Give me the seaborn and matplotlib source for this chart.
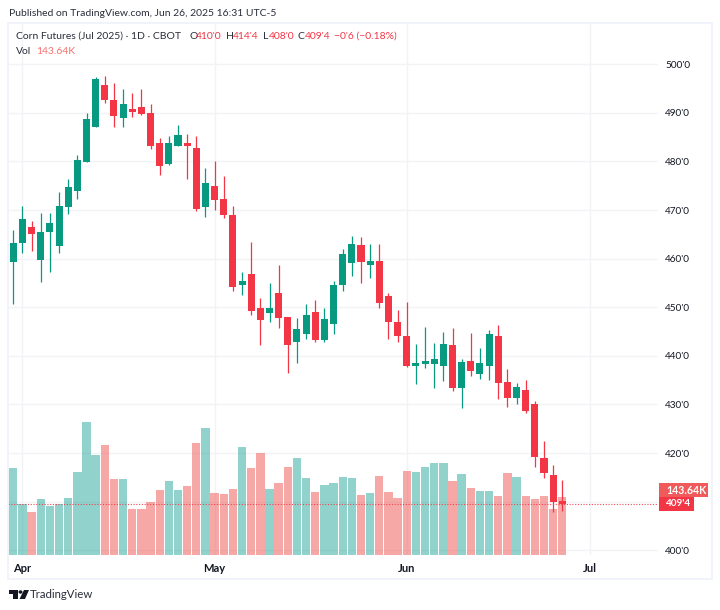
import matplotlib
matplotlib.use("Agg")
import matplotlib.pyplot as plt
from matplotlib.patches import Rectangle, Polygon, Circle
import numpy as np
import pandas as pd
import seaborn as sns

opens = [459.3,463.3,466.5,459.8,465.4,462.6,470.6,473.9,479.8,487.2,495.7,492.6,489.0,490.8,491.3,490.0,
         483.8,479.4,483.2,483.8,482.7,470.6,475.0,472.2,469.0,454.5,456.9,449.9,448.8,452.9,448.0,442.8,
         444.5,449.0,443.3,446.6,454.5,459.2,462.8,458.8,459.5,452.3,447.0,444.0,438.0,438.3,438.3,438.0,
         442.2,433.4,439.0,436.3,438.0,444.0,434.6,431.3,432.9,430.0,418.9,415.4,410.0]
highs = [466.0,470.8,467.8,469.5,469.5,473.8,476.3,481.3,490.0,497.3,497.5,496.1,494.9,494.0,494.9,491.8,
         484.8,485.2,487.5,485.7,485.2,478.6,480.0,477.0,470.8,457.3,463.4,452.0,454.9,458.7,448.0,447.7,
         450.6,451.5,449.8,455.5,461.9,464.7,464.5,463.0,463.0,452.9,449.4,451.0,442.4,445.9,442.7,445.0,
         445.7,439.4,444.7,441.6,445.3,446.4,437.4,434.5,435.0,430.7,422.4,417.5,414.5]
lows = [450.7,461.2,461.6,455.2,457.3,461.2,469.2,472.2,479.8,487.2,492.1,487.0,487.0,489.1,489.6,482.6,
        477.3,479.2,483.2,476.3,469.9,468.6,470.0,468.3,453.4,452.5,448.5,442.3,447.0,445.8,436.4,438.5,
        443.4,442.8,442.9,444.6,453.4,456.4,455.0,456.0,449.9,443.4,442.9,437.8,434.2,437.5,433.3,434.9,
        432.8,429.3,435.9,435.2,435.0,431.1,429.4,430.0,428.3,417.1,414.9,407.9,408.0]
closes = [463.3,468.2,465.1,465.5,467.3,470.8,474.8,480.4,488.7,497.0,492.6,489.4,491.8,490.2,489.8,483.2,
          479.1,483.9,485.5,483.2,470.2,475.6,472.1,468.9,454.1,455.5,449.2,447.4,449.8,447.9,442.3,445.5,
          448.5,443.3,447.5,454.5,461.0,463.0,459.3,459.5,450.9,446.9,444.0,438.0,438.5,438.8,439.4,442.4,
          433.4,438.7,436.9,438.5,444.5,434.5,431.3,433.5,428.6,419.1,416.0,410.0,409.5]
# volume in thousands of contracts
volumes = [214.6,126.3,107.3,137.9,120.5,126.3,140.3,204.7,329.4,246.8,272.4,187.4,187.4,114.7,114.7,132.1,
           161.0,182.4,161.0,170.9,277.4,313.7,153.5,151.1,162.6,267.5,216.3,252.6,162.6,178.3,217.9,239.4,
           189.9,156.8,172.5,178.3,193.2,191.5,149.4,153.5,195.6,156.8,140.3,208.9,206.4,217.9,227.8,227.8,
           183.3,200.6,166.8,158.5,158.5,146.1,203.1,193.2,146.1,138.7,146.1,114.7,143.64]
price_ticks = [400,410,420,430,440,450,460,470,480,490,500]
price_labels = ["400'0","410'0","420'0","430'0","440'0","450'0","460'0","470'0","480'0","490'0","500'0"]
month_ticks = [1,22,43,63]
month_labels = ["Apr","May","Jun","Jul"]
last_price = 409.5
last_price_label = "409'4"
last_volume_label = "143.64K"

GREEN = "#089981"; RED = "#f23645"; VG = "#26a69a"; VR = "#ef5350"
GRID = "#f2f3f6"; INK = "#131722"; SOFT = "#2a2e39"

sns.set_theme(style="white")
plt.rcParams["font.family"] = ["Lato", "DejaVu Sans"]

W, H = 720, 610
fig = plt.figure(figsize=(W/100, H/100), dpi=100, facecolor="white")

def px(x, y):
    return x/W, 1 - y/H

L, R, T, B = 8.0, 658.0, 23.0, 555.0
rect = [L/W, 1-B/H, (R-L)/W, (B-T)/H]
XLIM = ((L-13.3)/9.15, (R-13.3)/9.15)
YLIM = (500-(B-64.3)/4.86, 500-(T-64.3)/4.86)

df = pd.DataFrame(dict(i=np.arange(len(opens)), o=opens, h=highs, l=lows, c=closes, v=volumes))
df["up"] = df.c >= df.o
df["body"] = (df.c - df.o).abs().clip(lower=0.6)
df["base"] = df[["o", "c"]].min(axis=1)

# layer 1: grid and tick labels
ax = fig.add_axes(rect, facecolor="white", zorder=0)
ax.set_xlim(*XLIM); ax.set_ylim(*YLIM)
ax.yaxis.tick_right()
ax.set_yticks(price_ticks, price_labels, fontsize=7.2, color=INK)
ax.set_xticks(month_ticks, month_labels, fontsize=8.0, color=INK, fontweight="bold")
ax.tick_params(axis="both", length=0)
ax.tick_params(axis="y", pad=5)
ax.tick_params(axis="x", pad=5.5)
ax.grid(True, color=GRID, lw=1.0)
ax.set_axisbelow(True)
sns.despine(ax=ax, left=True, right=True, top=True, bottom=True)

# layer 2: volume
axv = fig.add_axes(rect, facecolor="none", zorder=1)
sns.barplot(data=df[df.up], x="i", y="v", native_scale=True, color=VG, saturation=1, alpha=0.5,
            width=0.91, linewidth=0, ax=axv)
sns.barplot(data=df[~df.up], x="i", y="v", native_scale=True, color=VR, saturation=1, alpha=0.5,
            width=0.91, linewidth=0, ax=axv)
axv.set_xlim(*XLIM); axv.set_ylim(0, (B-T)*2.476)
axv.axis("off")

# layer 3: candles
axc = fig.add_axes(rect, facecolor="none", zorder=2)
for up, col in ((True, GREEN), (False, RED)):
    sub = df[df.up == up]
    axc.vlines(sub.i, sub.l, sub.h, color=col, lw=0.9, zorder=2)
    sns.barplot(data=sub, x="i", y="body", bottom=sub.base.to_numpy(), native_scale=True, color=col,
                saturation=1, width=0.77, linewidth=0, ax=axc, zorder=3)
axc.axhline(last_price, color=RED, lw=0.8, ls=(0, (1, 1.5)), alpha=0.9, zorder=1)
axc.set_xlim(*XLIM); axc.set_ylim(*YLIM)
axc.axis("off")

# outer frame
fig.add_artist(Rectangle(px(8, 579), 703.5/W, (579-22.5)/H, transform=fig.transFigure,
                         fill=False, ec="#f0f3fa", lw=1.4, zorder=5))

def t(x, y, s, color=INK, size=7.45, **kw):
    fig.text(*px(x, y), s, color=color, fontsize=size, va="center", ha=kw.pop("ha", "left"), zorder=6, **kw)

t(9, 13.5, "Published on TradingView.com, Jun 26, 2025 16:31 UTC-5", color=SOFT)
t(16, 36.5, "Corn Futures (Jul 2025) · 1D · CBOT", color=SOFT)
for lx, lab, vx, val in ((189, "O", 196, "410'0"), (226, "H", 233, "414'4"),
                         (263, "L", 269, "408'0"), (298, "C", 305, "409'4")):
    t(lx, 36.5, lab, color=SOFT)
    t(vx, 36.5, val, color=RED)
t(334, 36.5, "−0'6 (−0.18%)", color=RED)
t(16, 51.5, "Vol", color=SOFT)
t(36.5, 51.5, last_volume_label, color="#f7706d")

# price scale flags
fig.add_artist(Rectangle(px(659, 497), 49/W, 14.3/H, transform=fig.transFigure, fc="#f05a5a", ec="none", zorder=6))
fig.add_artist(Rectangle(px(659, 511), 34.5/W, 14/H, transform=fig.transFigure, fc=RED, ec="none", zorder=6))
t(666.5, 490, last_volume_label, color="white", size=7.6, fontweight="bold")
t(665.5, 504, last_price_label, color="white", size=7.2, fontweight="bold")

# TradingView mark
def poly(points):
    fig.add_artist(Polygon([px(*p) for p in points], closed=True, transform=fig.transFigure, fc=INK, ec="none", zorder=6))
poly([(8.5,590),(17.5,590),(17.5,599),(13,599),(13,594),(8.5,594)])
poly([(24,590),(29,590),(25,599),(19.5,599)])
fig.add_artist(Circle(px(20.5,592), 2.0/W, transform=fig.transFigure, fc=INK, ec="none", zorder=6))
t(30, 594.5, "TradingView", color=SOFT, size=8.2)

fig.savefig("out.png", dpi=100, facecolor="white")
